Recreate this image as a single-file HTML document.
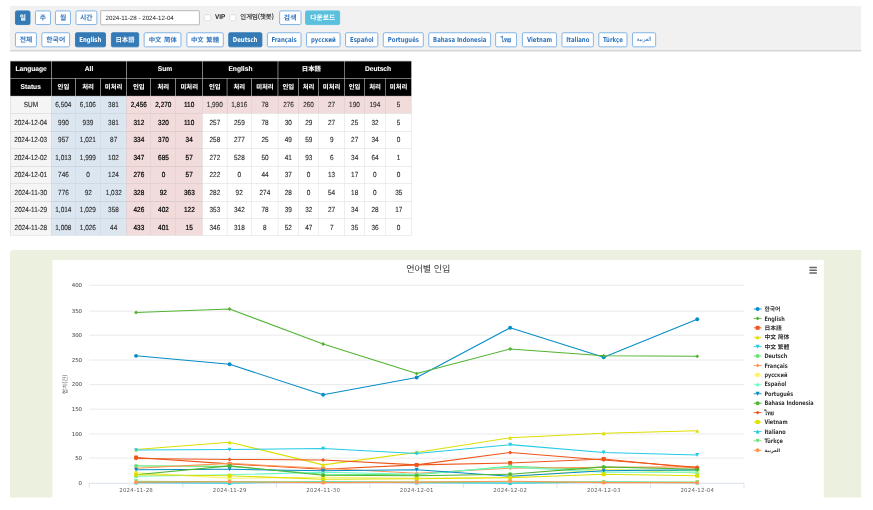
<!DOCTYPE html>
<html lang="ko"><head><meta charset="utf-8"><title>언어별 인입</title>
<style>
html,body{margin:0;padding:0;background:#fff;overflow:hidden}
body{width:873px;height:510px;position:relative}
#root{position:absolute;left:0;top:0;width:1920px;height:1122px;transform:scale(0.4546875);transform-origin:0 0;
 font-family:"Liberation Sans","Noto Sans CJK KR",sans-serif;font-size:14px;color:#333;overflow:hidden;text-rendering:geometricPrecision}
#root *{box-sizing:border-box}
.abs{position:absolute}
.bar{position:absolute;background:#f1f1f1;border-bottom:3px solid #d4d4d4}
.btn{position:absolute;border:2px solid #78aee3;border-radius:4px;background:#fff;color:#2f74bd;font-weight:bold;
 font-family:"DejaVu Sans Condensed","DejaVu Sans","Noto Sans CJK KR",sans-serif;font-size:15px;text-align:center;white-space:nowrap;
 display:flex;align-items:center;justify-content:center;padding:0}
.btn span{display:inline-block;transform:scaleX(0.875)}
.btn.ko span,.btn.jp span,.btn.sc span,.btn.tc span{transform:none}
.btn.ar{font-weight:normal;font-size:13px}
.btn.ar span{transform:none}
.btn.on{background:#337ab7;border-color:#337ab7;color:#fff}
.btn.info{background:#5bc0de;border-color:#5bc0de;color:#fff}
.btn.ko{font-family:"Noto Sans CJK KR",sans-serif;font-size:15px}
.btn.jp{font-family:"Noto Sans CJK JP",sans-serif;font-size:14px}
.btn.sc{font-family:"Noto Sans CJK SC",sans-serif;font-size:14px;word-spacing:2px}
.btn.tc{font-family:"Noto Sans CJK TC",sans-serif;font-size:14px;word-spacing:2px}
.inp{position:absolute;border:1.6px solid #6e6e6e;background:#fff;border-radius:2px;font-size:13.6px;color:#222;display:flex;align-items:center;white-space:pre}
.cb{position:absolute;border:1.5px solid #c6c6c6;background:#fff;border-radius:3.5px}
.lbl{position:absolute;white-space:nowrap;display:flex;align-items:center;color:#333}
.c{position:absolute;border-left:1px solid rgba(0,0,0,0.15);border-top:1px solid rgba(0,0,0,0.15);text-align:center;white-space:nowrap;
 display:flex;align-items:center;justify-content:center;font-size:16.2px;color:#2c2c2c;-webkit-text-stroke:0.3px #2c2c2c}
.c span{display:inline-block;transform:scaleX(0.875);position:relative;top:0.3px}
.h{background:#000;color:#fff;font-weight:bold;font-size:15.4px;border-color:#cfcfcf;-webkit-text-stroke:0.2px #fff}
.h span{transform:scaleX(0.95);top:0}
.h.ko span,.h.jp span{transform:none;position:relative;top:-1px}
.h.ko{font-family:"Noto Sans CJK KR",sans-serif;font-size:14px}
.h.jp{font-family:"Noto Sans CJK JP",sans-serif;font-size:14px}
.bl{background:#dce6f1}
.pk{background:#f2dcdb}
.pk.s{color:#000;-webkit-text-stroke:0.5px #000}
.gy{background:#f5f5f5}
.panel{position:absolute;background:#ebf0df;border-top-left-radius:9px}
</style></head><body><div id="root">

<div class="bar" style="left:21.77px;top:13.20px;width:1871.84px;height:99.63px"></div>
<div class="btn ko on" style="left:33.10px;top:22.98px;width:34.09px;height:31.89px"><span>일</span></div>
<div class="btn ko" style="left:76.65px;top:22.98px;width:35.19px;height:31.89px"><span>주</span></div>
<div class="btn ko" style="left:121.29px;top:22.98px;width:34.97px;height:31.89px"><span>월</span></div>
<div class="btn ko" style="left:165.50px;top:22.98px;width:48.82px;height:31.89px"><span>시간</span></div>
<div class="inp" style="left:220.81px;top:22.87px;width:217.95px;height:31.67px;padding-left:10.34px">2024-11-28 - 2024-12-04</div>
<div class="cb" style="left:449.43px;top:31.89px;width:14.41px;height:14.52px"></div>
<div class="lbl" style="left:473.07px;top:22.87px;height:27.71px;font-size:15.5px;font-weight:bold;color:#222"><span style="display:inline-block;transform:scaleX(0.9);transform-origin:0 50%">VIP</span></div>
<div class="cb" style="left:504.52px;top:31.89px;width:14.41px;height:14.52px"></div>
<div class="lbl" style="left:528.49px;top:22.87px;height:27.71px;font-size:14px;color:#222;-webkit-text-stroke:0.3px #222;font-family:'Noto Sans CJK KR',sans-serif">인게임(챗봇)</div>
<div class="btn ko" style="left:613.72px;top:22.98px;width:48.82px;height:31.89px"><span>검색</span></div>
<div class="btn ko info" style="left:671.34px;top:22.98px;width:76.98px;height:31.89px"><span>다운로드</span></div>
<div class="btn ko" style="left:33.10px;top:71.26px;width:47.95px;height:32.55px"><span>전체</span></div>
<div class="btn ko" style="left:90.72px;top:71.26px;width:63.78px;height:32.55px"><span>한국어</span></div>
<div class="btn on" style="left:165.28px;top:71.26px;width:67.52px;height:32.55px"><span>English</span></div>
<div class="btn jp on" style="left:244.01px;top:71.26px;width:62.02px;height:32.55px"><span>日本語</span></div>
<div class="btn sc" style="left:316.37px;top:71.26px;width:83.13px;height:32.55px"><span>中文 简体</span></div>
<div class="btn tc" style="left:409.62px;top:71.26px;width:82.47px;height:32.55px"><span>中文 繁體</span></div>
<div class="btn on" style="left:502.21px;top:71.26px;width:74.34px;height:32.55px"><span>Deutsch</span></div>
<div class="btn " style="left:587.33px;top:71.26px;width:75.22px;height:32.55px"><span>Français</span></div>
<div class="btn " style="left:673.10px;top:71.26px;width:75.66px;height:32.55px"><span>русский</span></div>
<div class="btn " style="left:758.65px;top:71.26px;width:73.68px;height:32.55px"><span>Español</span></div>
<div class="btn " style="left:842.45px;top:71.26px;width:89.73px;height:32.55px"><span>Português</span></div>
<div class="btn " style="left:941.64px;top:71.26px;width:138.12px;height:32.55px"><span>Bahasa Indonesia</span></div>
<div class="btn " style="left:1089.21px;top:71.26px;width:47.95px;height:32.55px"><span>ไทย</span></div>
<div class="btn " style="left:1147.93px;top:71.26px;width:76.98px;height:32.55px"><span>Vietnam</span></div>
<div class="btn " style="left:1235.02px;top:71.26px;width:71.04px;height:32.55px"><span>Italiano</span></div>
<div class="btn " style="left:1315.96px;top:71.26px;width:64.22px;height:32.55px"><span>Türkçe</span></div>
<div class="btn ar" style="left:1390.30px;top:71.26px;width:52.34px;height:32.55px"><span>العربية</span></div>
<div class="c h" style="left:22.21px;top:133.61px;width:90.39px;height:38.49px"><span>Language</span></div>
<div class="c h" style="left:112.60px;top:133.61px;width:165.61px;height:38.49px"><span>All</span></div>
<div class="c h" style="left:278.21px;top:133.61px;width:167.15px;height:38.49px"><span>Sum</span></div>
<div class="c h" style="left:445.36px;top:133.61px;width:165.61px;height:38.49px"><span>English</span></div>
<div class="c h jp" style="left:610.97px;top:133.61px;width:146.47px;height:38.49px"><span>日本語</span></div>
<div class="c h" style="left:757.44px;top:133.61px;width:147.79px;height:38.49px"><span>Deutsch</span></div>
<div class="c h" style="left:22.21px;top:172.10px;width:90.39px;height:38.49px"><span>Status</span></div>
<div class="c h ko" style="left:112.60px;top:172.10px;width:53.00px;height:38.49px"><span>인입</span></div>
<div class="c h ko" style="left:165.61px;top:172.10px;width:54.98px;height:38.49px"><span>처리</span></div>
<div class="c h ko" style="left:220.59px;top:172.10px;width:57.62px;height:38.49px"><span>미처리</span></div>
<div class="c h ko" style="left:278.21px;top:172.10px;width:53.22px;height:38.49px"><span>인입</span></div>
<div class="c h ko" style="left:331.44px;top:172.10px;width:54.54px;height:38.49px"><span>처리</span></div>
<div class="c h ko" style="left:385.98px;top:172.10px;width:59.38px;height:38.49px"><span>미처리</span></div>
<div class="c h ko" style="left:445.36px;top:172.10px;width:53.22px;height:38.49px"><span>인입</span></div>
<div class="c h ko" style="left:498.58px;top:172.10px;width:54.76px;height:38.49px"><span>처리</span></div>
<div class="c h ko" style="left:553.35px;top:172.10px;width:57.62px;height:38.49px"><span>미처리</span></div>
<div class="c h ko" style="left:610.97px;top:172.10px;width:45.09px;height:38.49px"><span>인입</span></div>
<div class="c h ko" style="left:656.05px;top:172.10px;width:44.21px;height:38.49px"><span>처리</span></div>
<div class="c h ko" style="left:700.26px;top:172.10px;width:57.18px;height:38.49px"><span>미처리</span></div>
<div class="c h ko" style="left:757.44px;top:172.10px;width:43.99px;height:38.49px"><span>인입</span></div>
<div class="c h ko" style="left:801.43px;top:172.10px;width:45.75px;height:38.49px"><span>처리</span></div>
<div class="c h ko" style="left:847.18px;top:172.10px;width:58.06px;height:38.49px"><span>미처리</span></div>
<div class="c gy" style="left:22.21px;top:210.58px;width:90.39px;height:38.49px"><span>SUM</span></div>
<div class="c bl" style="left:112.60px;top:210.58px;width:53.00px;height:38.49px"><span>6,504</span></div>
<div class="c bl" style="left:165.61px;top:210.58px;width:54.98px;height:38.49px"><span>6,106</span></div>
<div class="c bl" style="left:220.59px;top:210.58px;width:57.62px;height:38.49px"><span>381</span></div>
<div class="c pk s" style="left:278.21px;top:210.58px;width:53.22px;height:38.49px"><span>2,456</span></div>
<div class="c pk s" style="left:331.44px;top:210.58px;width:54.54px;height:38.49px"><span>2,270</span></div>
<div class="c pk s" style="left:385.98px;top:210.58px;width:59.38px;height:38.49px"><span>110</span></div>
<div class="c pk" style="left:445.36px;top:210.58px;width:53.22px;height:38.49px"><span>1,990</span></div>
<div class="c pk" style="left:498.58px;top:210.58px;width:54.76px;height:38.49px"><span>1,816</span></div>
<div class="c pk" style="left:553.35px;top:210.58px;width:57.62px;height:38.49px"><span>78</span></div>
<div class="c pk" style="left:610.97px;top:210.58px;width:45.09px;height:38.49px"><span>276</span></div>
<div class="c pk" style="left:656.05px;top:210.58px;width:44.21px;height:38.49px"><span>260</span></div>
<div class="c pk" style="left:700.26px;top:210.58px;width:57.18px;height:38.49px"><span>27</span></div>
<div class="c pk" style="left:757.44px;top:210.58px;width:43.99px;height:38.49px"><span>190</span></div>
<div class="c pk" style="left:801.43px;top:210.58px;width:45.75px;height:38.49px"><span>194</span></div>
<div class="c pk" style="left:847.18px;top:210.58px;width:58.06px;height:38.49px"><span>5</span></div>
<div class="c gy" style="left:22.21px;top:249.07px;width:90.39px;height:38.49px"><span>2024-12-04</span></div>
<div class="c bl" style="left:112.60px;top:249.07px;width:53.00px;height:38.49px"><span>990</span></div>
<div class="c bl" style="left:165.61px;top:249.07px;width:54.98px;height:38.49px"><span>939</span></div>
<div class="c bl" style="left:220.59px;top:249.07px;width:57.62px;height:38.49px"><span>381</span></div>
<div class="c pk s" style="left:278.21px;top:249.07px;width:53.22px;height:38.49px"><span>312</span></div>
<div class="c pk s" style="left:331.44px;top:249.07px;width:54.54px;height:38.49px"><span>320</span></div>
<div class="c pk s" style="left:385.98px;top:249.07px;width:59.38px;height:38.49px"><span>110</span></div>
<div class="c " style="left:445.36px;top:249.07px;width:53.22px;height:38.49px"><span>257</span></div>
<div class="c " style="left:498.58px;top:249.07px;width:54.76px;height:38.49px"><span>259</span></div>
<div class="c " style="left:553.35px;top:249.07px;width:57.62px;height:38.49px"><span>78</span></div>
<div class="c " style="left:610.97px;top:249.07px;width:45.09px;height:38.49px"><span>30</span></div>
<div class="c " style="left:656.05px;top:249.07px;width:44.21px;height:38.49px"><span>29</span></div>
<div class="c " style="left:700.26px;top:249.07px;width:57.18px;height:38.49px"><span>27</span></div>
<div class="c " style="left:757.44px;top:249.07px;width:43.99px;height:38.49px"><span>25</span></div>
<div class="c " style="left:801.43px;top:249.07px;width:45.75px;height:38.49px"><span>32</span></div>
<div class="c " style="left:847.18px;top:249.07px;width:58.06px;height:38.49px"><span>5</span></div>
<div class="c gy" style="left:22.21px;top:287.56px;width:90.39px;height:38.49px"><span>2024-12-03</span></div>
<div class="c bl" style="left:112.60px;top:287.56px;width:53.00px;height:38.49px"><span>957</span></div>
<div class="c bl" style="left:165.61px;top:287.56px;width:54.98px;height:38.49px"><span>1,021</span></div>
<div class="c bl" style="left:220.59px;top:287.56px;width:57.62px;height:38.49px"><span>87</span></div>
<div class="c pk s" style="left:278.21px;top:287.56px;width:53.22px;height:38.49px"><span>334</span></div>
<div class="c pk s" style="left:331.44px;top:287.56px;width:54.54px;height:38.49px"><span>370</span></div>
<div class="c pk s" style="left:385.98px;top:287.56px;width:59.38px;height:38.49px"><span>34</span></div>
<div class="c " style="left:445.36px;top:287.56px;width:53.22px;height:38.49px"><span>258</span></div>
<div class="c " style="left:498.58px;top:287.56px;width:54.76px;height:38.49px"><span>277</span></div>
<div class="c " style="left:553.35px;top:287.56px;width:57.62px;height:38.49px"><span>25</span></div>
<div class="c " style="left:610.97px;top:287.56px;width:45.09px;height:38.49px"><span>49</span></div>
<div class="c " style="left:656.05px;top:287.56px;width:44.21px;height:38.49px"><span>59</span></div>
<div class="c " style="left:700.26px;top:287.56px;width:57.18px;height:38.49px"><span>9</span></div>
<div class="c " style="left:757.44px;top:287.56px;width:43.99px;height:38.49px"><span>27</span></div>
<div class="c " style="left:801.43px;top:287.56px;width:45.75px;height:38.49px"><span>34</span></div>
<div class="c " style="left:847.18px;top:287.56px;width:58.06px;height:38.49px"><span>0</span></div>
<div class="c gy" style="left:22.21px;top:326.05px;width:90.39px;height:38.49px"><span>2024-12-02</span></div>
<div class="c bl" style="left:112.60px;top:326.05px;width:53.00px;height:38.49px"><span>1,013</span></div>
<div class="c bl" style="left:165.61px;top:326.05px;width:54.98px;height:38.49px"><span>1,999</span></div>
<div class="c bl" style="left:220.59px;top:326.05px;width:57.62px;height:38.49px"><span>102</span></div>
<div class="c pk s" style="left:278.21px;top:326.05px;width:53.22px;height:38.49px"><span>347</span></div>
<div class="c pk s" style="left:331.44px;top:326.05px;width:54.54px;height:38.49px"><span>685</span></div>
<div class="c pk s" style="left:385.98px;top:326.05px;width:59.38px;height:38.49px"><span>57</span></div>
<div class="c " style="left:445.36px;top:326.05px;width:53.22px;height:38.49px"><span>272</span></div>
<div class="c " style="left:498.58px;top:326.05px;width:54.76px;height:38.49px"><span>528</span></div>
<div class="c " style="left:553.35px;top:326.05px;width:57.62px;height:38.49px"><span>50</span></div>
<div class="c " style="left:610.97px;top:326.05px;width:45.09px;height:38.49px"><span>41</span></div>
<div class="c " style="left:656.05px;top:326.05px;width:44.21px;height:38.49px"><span>93</span></div>
<div class="c " style="left:700.26px;top:326.05px;width:57.18px;height:38.49px"><span>6</span></div>
<div class="c " style="left:757.44px;top:326.05px;width:43.99px;height:38.49px"><span>34</span></div>
<div class="c " style="left:801.43px;top:326.05px;width:45.75px;height:38.49px"><span>64</span></div>
<div class="c " style="left:847.18px;top:326.05px;width:58.06px;height:38.49px"><span>1</span></div>
<div class="c gy" style="left:22.21px;top:364.54px;width:90.39px;height:38.49px"><span>2024-12-01</span></div>
<div class="c bl" style="left:112.60px;top:364.54px;width:53.00px;height:38.49px"><span>746</span></div>
<div class="c bl" style="left:165.61px;top:364.54px;width:54.98px;height:38.49px"><span>0</span></div>
<div class="c bl" style="left:220.59px;top:364.54px;width:57.62px;height:38.49px"><span>124</span></div>
<div class="c pk s" style="left:278.21px;top:364.54px;width:53.22px;height:38.49px"><span>276</span></div>
<div class="c pk s" style="left:331.44px;top:364.54px;width:54.54px;height:38.49px"><span>0</span></div>
<div class="c pk s" style="left:385.98px;top:364.54px;width:59.38px;height:38.49px"><span>57</span></div>
<div class="c " style="left:445.36px;top:364.54px;width:53.22px;height:38.49px"><span>222</span></div>
<div class="c " style="left:498.58px;top:364.54px;width:54.76px;height:38.49px"><span>0</span></div>
<div class="c " style="left:553.35px;top:364.54px;width:57.62px;height:38.49px"><span>44</span></div>
<div class="c " style="left:610.97px;top:364.54px;width:45.09px;height:38.49px"><span>37</span></div>
<div class="c " style="left:656.05px;top:364.54px;width:44.21px;height:38.49px"><span>0</span></div>
<div class="c " style="left:700.26px;top:364.54px;width:57.18px;height:38.49px"><span>13</span></div>
<div class="c " style="left:757.44px;top:364.54px;width:43.99px;height:38.49px"><span>17</span></div>
<div class="c " style="left:801.43px;top:364.54px;width:45.75px;height:38.49px"><span>0</span></div>
<div class="c " style="left:847.18px;top:364.54px;width:58.06px;height:38.49px"><span>0</span></div>
<div class="c gy" style="left:22.21px;top:403.02px;width:90.39px;height:38.49px"><span>2024-11-30</span></div>
<div class="c bl" style="left:112.60px;top:403.02px;width:53.00px;height:38.49px"><span>776</span></div>
<div class="c bl" style="left:165.61px;top:403.02px;width:54.98px;height:38.49px"><span>92</span></div>
<div class="c bl" style="left:220.59px;top:403.02px;width:57.62px;height:38.49px"><span>1,032</span></div>
<div class="c pk s" style="left:278.21px;top:403.02px;width:53.22px;height:38.49px"><span>328</span></div>
<div class="c pk s" style="left:331.44px;top:403.02px;width:54.54px;height:38.49px"><span>92</span></div>
<div class="c pk s" style="left:385.98px;top:403.02px;width:59.38px;height:38.49px"><span>363</span></div>
<div class="c " style="left:445.36px;top:403.02px;width:53.22px;height:38.49px"><span>282</span></div>
<div class="c " style="left:498.58px;top:403.02px;width:54.76px;height:38.49px"><span>92</span></div>
<div class="c " style="left:553.35px;top:403.02px;width:57.62px;height:38.49px"><span>274</span></div>
<div class="c " style="left:610.97px;top:403.02px;width:45.09px;height:38.49px"><span>28</span></div>
<div class="c " style="left:656.05px;top:403.02px;width:44.21px;height:38.49px"><span>0</span></div>
<div class="c " style="left:700.26px;top:403.02px;width:57.18px;height:38.49px"><span>54</span></div>
<div class="c " style="left:757.44px;top:403.02px;width:43.99px;height:38.49px"><span>18</span></div>
<div class="c " style="left:801.43px;top:403.02px;width:45.75px;height:38.49px"><span>0</span></div>
<div class="c " style="left:847.18px;top:403.02px;width:58.06px;height:38.49px"><span>35</span></div>
<div class="c gy" style="left:22.21px;top:441.51px;width:90.39px;height:38.49px"><span>2024-11-29</span></div>
<div class="c bl" style="left:112.60px;top:441.51px;width:53.00px;height:38.49px"><span>1,014</span></div>
<div class="c bl" style="left:165.61px;top:441.51px;width:54.98px;height:38.49px"><span>1,029</span></div>
<div class="c bl" style="left:220.59px;top:441.51px;width:57.62px;height:38.49px"><span>358</span></div>
<div class="c pk s" style="left:278.21px;top:441.51px;width:53.22px;height:38.49px"><span>426</span></div>
<div class="c pk s" style="left:331.44px;top:441.51px;width:54.54px;height:38.49px"><span>402</span></div>
<div class="c pk s" style="left:385.98px;top:441.51px;width:59.38px;height:38.49px"><span>122</span></div>
<div class="c " style="left:445.36px;top:441.51px;width:53.22px;height:38.49px"><span>353</span></div>
<div class="c " style="left:498.58px;top:441.51px;width:54.76px;height:38.49px"><span>342</span></div>
<div class="c " style="left:553.35px;top:441.51px;width:57.62px;height:38.49px"><span>78</span></div>
<div class="c " style="left:610.97px;top:441.51px;width:45.09px;height:38.49px"><span>39</span></div>
<div class="c " style="left:656.05px;top:441.51px;width:44.21px;height:38.49px"><span>32</span></div>
<div class="c " style="left:700.26px;top:441.51px;width:57.18px;height:38.49px"><span>27</span></div>
<div class="c " style="left:757.44px;top:441.51px;width:43.99px;height:38.49px"><span>34</span></div>
<div class="c " style="left:801.43px;top:441.51px;width:45.75px;height:38.49px"><span>28</span></div>
<div class="c " style="left:847.18px;top:441.51px;width:58.06px;height:38.49px"><span>17</span></div>
<div class="c gy" style="left:22.21px;top:480.00px;width:90.39px;height:38.49px"><span>2024-11-28</span></div>
<div class="c bl" style="left:112.60px;top:480.00px;width:53.00px;height:38.49px"><span>1,008</span></div>
<div class="c bl" style="left:165.61px;top:480.00px;width:54.98px;height:38.49px"><span>1,026</span></div>
<div class="c bl" style="left:220.59px;top:480.00px;width:57.62px;height:38.49px"><span>44</span></div>
<div class="c pk s" style="left:278.21px;top:480.00px;width:53.22px;height:38.49px"><span>433</span></div>
<div class="c pk s" style="left:331.44px;top:480.00px;width:54.54px;height:38.49px"><span>401</span></div>
<div class="c pk s" style="left:385.98px;top:480.00px;width:59.38px;height:38.49px"><span>15</span></div>
<div class="c " style="left:445.36px;top:480.00px;width:53.22px;height:38.49px"><span>346</span></div>
<div class="c " style="left:498.58px;top:480.00px;width:54.76px;height:38.49px"><span>318</span></div>
<div class="c " style="left:553.35px;top:480.00px;width:57.62px;height:38.49px"><span>8</span></div>
<div class="c " style="left:610.97px;top:480.00px;width:45.09px;height:38.49px"><span>52</span></div>
<div class="c " style="left:656.05px;top:480.00px;width:44.21px;height:38.49px"><span>47</span></div>
<div class="c " style="left:700.26px;top:480.00px;width:57.18px;height:38.49px"><span>7</span></div>
<div class="c " style="left:757.44px;top:480.00px;width:43.99px;height:38.49px"><span>35</span></div>
<div class="c " style="left:801.43px;top:480.00px;width:45.75px;height:38.49px"><span>36</span></div>
<div class="c " style="left:847.18px;top:480.00px;width:58.06px;height:38.49px"><span>0</span></div>
<div class="abs" style="left:905.24px;top:133.61px;width:1px;height:384.88px;background:#d9d9d9"></div>
<div class="abs" style="left:22.21px;top:518.49px;width:883.02px;height:1px;background:#d9d9d9"></div>
<div class="panel" style="left:22.21px;top:549.61px;width:1871.40px;height:544.77px">
<svg style="position:absolute;left:93.25px;top:21.88px" width="1696.99px" height="538.83px" viewBox="52.50 259.85 771.60 245.00">
<rect x="52.50" y="259.85" width="771.60" height="245.00" fill="#fff"/>
<text x="82.3" y="485.25" text-anchor="end" font-family="'DejaVu Sans',sans-serif" font-size="5.456" fill="#555" stroke="#555" stroke-width="0.08">0</text>
<path d="M89.50 458.35 H744.20" stroke="#dadada" stroke-width="0.568" fill="none"/>
<text x="82.3" y="460.10" text-anchor="end" font-family="'DejaVu Sans',sans-serif" font-size="5.456" fill="#555" stroke="#555" stroke-width="0.08">50</text>
<path d="M89.50 434.20 H744.20" stroke="#dadada" stroke-width="0.568" fill="none"/>
<text x="82.3" y="435.95" text-anchor="end" font-family="'DejaVu Sans',sans-serif" font-size="5.456" fill="#555" stroke="#555" stroke-width="0.08">100</text>
<path d="M89.50 409.40 H744.20" stroke="#dadada" stroke-width="0.568" fill="none"/>
<text x="82.3" y="411.15" text-anchor="end" font-family="'DejaVu Sans',sans-serif" font-size="5.456" fill="#555" stroke="#555" stroke-width="0.08">150</text>
<path d="M89.50 384.85 H744.20" stroke="#dadada" stroke-width="0.568" fill="none"/>
<text x="82.3" y="386.60" text-anchor="end" font-family="'DejaVu Sans',sans-serif" font-size="5.456" fill="#555" stroke="#555" stroke-width="0.08">200</text>
<path d="M89.50 360.30 H744.20" stroke="#dadada" stroke-width="0.568" fill="none"/>
<text x="82.3" y="362.05" text-anchor="end" font-family="'DejaVu Sans',sans-serif" font-size="5.456" fill="#555" stroke="#555" stroke-width="0.08">250</text>
<path d="M89.50 335.40 H744.20" stroke="#dadada" stroke-width="0.568" fill="none"/>
<text x="82.3" y="337.15" text-anchor="end" font-family="'DejaVu Sans',sans-serif" font-size="5.456" fill="#555" stroke="#555" stroke-width="0.08">300</text>
<path d="M89.50 311.35 H744.20" stroke="#dadada" stroke-width="0.568" fill="none"/>
<text x="82.3" y="313.10" text-anchor="end" font-family="'DejaVu Sans',sans-serif" font-size="5.456" fill="#555" stroke="#555" stroke-width="0.08">350</text>
<path d="M89.50 285.50 H744.20" stroke="#dadada" stroke-width="0.568" fill="none"/>
<text x="82.3" y="287.25" text-anchor="end" font-family="'DejaVu Sans',sans-serif" font-size="5.456" fill="#555" stroke="#555" stroke-width="0.08">400</text>
<path d="M89.50 483.50 H744.20" stroke="#c0cce6" stroke-width="0.637" fill="none"/>
<path d="M89.50 483.50 V488.05" stroke="#c0cce6" stroke-width="0.591" fill="none"/>
<path d="M183.03 483.50 V488.05" stroke="#c0cce6" stroke-width="0.591" fill="none"/>
<path d="M276.56 483.50 V488.05" stroke="#c0cce6" stroke-width="0.591" fill="none"/>
<path d="M370.09 483.50 V488.05" stroke="#c0cce6" stroke-width="0.591" fill="none"/>
<path d="M463.61 483.50 V488.05" stroke="#c0cce6" stroke-width="0.591" fill="none"/>
<path d="M557.14 483.50 V488.05" stroke="#c0cce6" stroke-width="0.591" fill="none"/>
<path d="M650.67 483.50 V488.05" stroke="#c0cce6" stroke-width="0.591" fill="none"/>
<path d="M744.20 483.50 V488.05" stroke="#c0cce6" stroke-width="0.591" fill="none"/>
<text x="136.26" y="492.35" text-anchor="middle" textLength="33.6" lengthAdjust="spacing" font-family="'DejaVu Sans',sans-serif" font-size="5.456" fill="#606060">2024-11-28</text>
<text x="229.79" y="492.35" text-anchor="middle" textLength="33.6" lengthAdjust="spacing" font-family="'DejaVu Sans',sans-serif" font-size="5.456" fill="#606060">2024-11-29</text>
<text x="323.32" y="492.35" text-anchor="middle" textLength="33.6" lengthAdjust="spacing" font-family="'DejaVu Sans',sans-serif" font-size="5.456" fill="#606060">2024-11-30</text>
<text x="416.85" y="492.35" text-anchor="middle" textLength="33.6" lengthAdjust="spacing" font-family="'DejaVu Sans',sans-serif" font-size="5.456" fill="#606060">2024-12-01</text>
<text x="510.38" y="492.35" text-anchor="middle" textLength="33.6" lengthAdjust="spacing" font-family="'DejaVu Sans',sans-serif" font-size="5.456" fill="#606060">2024-12-02</text>
<text x="603.91" y="492.35" text-anchor="middle" textLength="33.6" lengthAdjust="spacing" font-family="'DejaVu Sans',sans-serif" font-size="5.456" fill="#606060">2024-12-03</text>
<text x="697.44" y="492.35" text-anchor="middle" textLength="33.6" lengthAdjust="spacing" font-family="'DejaVu Sans',sans-serif" font-size="5.456" fill="#606060">2024-12-04</text>
<text x="428.5" y="272.3" text-anchor="middle" font-family="'Noto Sans CJK KR',sans-serif" font-size="9.094" fill="#333">언어별 인입</text>
<text transform="translate(66.9 384.6) rotate(-90)" text-anchor="middle" font-family="'Noto Sans CJK KR',sans-serif" font-size="5.638" fill="#666">합계(건)</text>
<path d="M810.2 267.80 H816.5" stroke="#666" stroke-width="1.546" stroke-linecap="round" fill="none"/>
<path d="M810.2 270.55 H816.5" stroke="#666" stroke-width="1.546" stroke-linecap="round" fill="none"/>
<path d="M810.2 273.25 H816.5" stroke="#666" stroke-width="1.546" stroke-linecap="round" fill="none"/>
<polyline points="136.26,356.06 229.79,364.45 323.32,395.04 416.85,377.77 510.38,327.94 603.91,357.54 697.44,319.55" fill="none" stroke="#058DC7" stroke-width="1.046" stroke-linejoin="round" stroke-linecap="round"/>
<circle cx="136.26" cy="356.06" r="1.96" fill="#058DC7"/>
<circle cx="229.79" cy="364.45" r="1.96" fill="#058DC7"/>
<circle cx="323.32" cy="395.04" r="1.96" fill="#058DC7"/>
<circle cx="416.85" cy="377.77" r="1.96" fill="#058DC7"/>
<circle cx="510.38" cy="327.94" r="1.96" fill="#058DC7"/>
<circle cx="603.91" cy="357.54" r="1.96" fill="#058DC7"/>
<circle cx="697.44" cy="319.55" r="1.96" fill="#058DC7"/>
<polyline points="136.26,312.64 229.79,309.19 323.32,344.22 416.85,373.83 510.38,349.16 603.91,356.06 697.44,356.56" fill="none" stroke="#50B432" stroke-width="1.046" stroke-linejoin="round" stroke-linecap="round"/>
<path d="M136.26 310.69 L138.22 312.64 L136.26 314.60 L134.31 312.64Z" fill="#50B432"/>
<path d="M229.79 307.23 L231.75 309.19 L229.79 311.14 L227.84 309.19Z" fill="#50B432"/>
<path d="M323.32 342.27 L325.28 344.22 L323.32 346.18 L321.37 344.22Z" fill="#50B432"/>
<path d="M416.85 371.87 L418.81 373.83 L416.85 375.78 L414.89 373.83Z" fill="#50B432"/>
<path d="M510.38 347.20 L512.33 349.16 L510.38 351.11 L508.42 349.16Z" fill="#50B432"/>
<path d="M603.91 354.11 L605.86 356.06 L603.91 358.02 L601.95 356.06Z" fill="#50B432"/>
<path d="M697.44 354.60 L699.39 356.56 L697.44 358.51 L695.48 356.56Z" fill="#50B432"/>
<polyline points="136.26,457.70 229.79,464.12 323.32,469.54 416.85,465.10 510.38,463.13 603.91,459.18 697.44,468.56" fill="none" stroke="#ED561B" stroke-width="1.046" stroke-linejoin="round" stroke-linecap="round"/>
<rect x="134.31" y="455.75" width="3.91" height="3.91" fill="#ED561B"/>
<rect x="227.84" y="462.16" width="3.91" height="3.91" fill="#ED561B"/>
<rect x="321.37" y="467.59" width="3.91" height="3.91" fill="#ED561B"/>
<rect x="414.89" y="463.15" width="3.91" height="3.91" fill="#ED561B"/>
<rect x="508.42" y="461.18" width="3.91" height="3.91" fill="#ED561B"/>
<rect x="601.95" y="457.23" width="3.91" height="3.91" fill="#ED561B"/>
<rect x="695.48" y="466.60" width="3.91" height="3.91" fill="#ED561B"/>
<polyline points="136.26,449.81 229.79,442.41 323.32,465.10 416.85,452.77 510.38,437.97 603.91,433.53 697.44,431.06" fill="none" stroke="#DDDF00" stroke-width="1.046" stroke-linejoin="round" stroke-linecap="round"/>
<path d="M136.26 447.85 L138.22 451.76 L134.31 451.76Z" fill="#DDDF00"/>
<path d="M229.79 440.45 L231.75 444.36 L227.84 444.36Z" fill="#DDDF00"/>
<path d="M323.32 463.15 L325.28 467.06 L321.37 467.06Z" fill="#DDDF00"/>
<path d="M416.85 450.81 L418.81 454.72 L414.89 454.72Z" fill="#DDDF00"/>
<path d="M510.38 436.01 L512.33 439.92 L508.42 439.92Z" fill="#DDDF00"/>
<path d="M603.91 431.57 L605.86 435.48 L601.95 435.48Z" fill="#DDDF00"/>
<path d="M697.44 429.10 L699.39 433.01 L695.48 433.01Z" fill="#DDDF00"/>
<polyline points="136.26,450.30 229.79,449.81 323.32,448.82 416.85,453.76 510.38,444.87 603.91,452.77 697.44,455.24" fill="none" stroke="#24CBE5" stroke-width="1.046" stroke-linejoin="round" stroke-linecap="round"/>
<path d="M134.31 448.35 L138.22 448.35 L136.26 452.26Z" fill="#24CBE5"/>
<path d="M227.84 447.85 L231.75 447.85 L229.79 451.76Z" fill="#24CBE5"/>
<path d="M321.37 446.87 L325.28 446.87 L323.32 450.78Z" fill="#24CBE5"/>
<path d="M414.89 451.80 L418.81 451.80 L416.85 455.71Z" fill="#24CBE5"/>
<path d="M508.42 442.92 L512.33 442.92 L510.38 446.83Z" fill="#24CBE5"/>
<path d="M601.95 450.81 L605.86 450.81 L603.91 454.72Z" fill="#24CBE5"/>
<path d="M695.48 453.28 L699.39 453.28 L697.44 457.19Z" fill="#24CBE5"/>
<polyline points="136.26,466.09 229.79,466.58 323.32,474.48 416.85,474.97 510.38,466.58 603.91,470.04 697.44,471.03" fill="none" stroke="#64E572" stroke-width="1.046" stroke-linejoin="round" stroke-linecap="round"/>
<circle cx="136.26" cy="466.09" r="1.96" fill="#64E572"/>
<circle cx="229.79" cy="466.58" r="1.96" fill="#64E572"/>
<circle cx="323.32" cy="474.48" r="1.96" fill="#64E572"/>
<circle cx="416.85" cy="474.97" r="1.96" fill="#64E572"/>
<circle cx="510.38" cy="466.58" r="1.96" fill="#64E572"/>
<circle cx="603.91" cy="470.04" r="1.96" fill="#64E572"/>
<circle cx="697.44" cy="471.03" r="1.96" fill="#64E572"/>
<polyline points="136.26,468.56 229.79,463.62 323.32,468.56 416.85,473.49 510.38,468.56 603.91,467.57 697.44,467.08" fill="none" stroke="#FF9655" stroke-width="1.046" stroke-linejoin="round" stroke-linecap="round"/>
<path d="M136.26 466.60 L138.22 468.56 L136.26 470.51 L134.31 468.56Z" fill="#FF9655"/>
<path d="M229.79 461.67 L231.75 463.62 L229.79 465.58 L227.84 463.62Z" fill="#FF9655"/>
<path d="M323.32 466.60 L325.28 468.56 L323.32 470.51 L321.37 468.56Z" fill="#FF9655"/>
<path d="M416.85 471.54 L418.81 473.49 L416.85 475.45 L414.89 473.49Z" fill="#FF9655"/>
<path d="M510.38 466.60 L512.33 468.56 L510.38 470.51 L508.42 468.56Z" fill="#FF9655"/>
<path d="M603.91 465.62 L605.86 467.57 L603.91 469.53 L601.95 467.57Z" fill="#FF9655"/>
<path d="M697.44 465.12 L699.39 467.08 L697.44 469.03 L695.48 467.08Z" fill="#FF9655"/>
<polyline points="136.26,473.00 229.79,478.43 323.32,477.44 416.85,478.43 510.38,477.44 603.91,469.54 697.44,473.49" fill="none" stroke="#FFF263" stroke-width="1.046" stroke-linejoin="round" stroke-linecap="round"/>
<rect x="134.31" y="471.04" width="3.91" height="3.91" fill="#FFF263"/>
<rect x="227.84" y="476.47" width="3.91" height="3.91" fill="#FFF263"/>
<rect x="321.37" y="475.48" width="3.91" height="3.91" fill="#FFF263"/>
<rect x="414.89" y="476.47" width="3.91" height="3.91" fill="#FFF263"/>
<rect x="508.42" y="475.48" width="3.91" height="3.91" fill="#FFF263"/>
<rect x="601.95" y="467.59" width="3.91" height="3.91" fill="#FFF263"/>
<rect x="695.48" y="471.54" width="3.91" height="3.91" fill="#FFF263"/>
<polyline points="136.26,476.45 229.79,474.97 323.32,472.51 416.85,474.48 510.38,467.08 603.91,472.51 697.44,472.51" fill="none" stroke="#6AF9C4" stroke-width="1.046" stroke-linejoin="round" stroke-linecap="round"/>
<path d="M136.26 474.50 L138.22 478.41 L134.31 478.41Z" fill="#6AF9C4"/>
<path d="M229.79 473.02 L231.75 476.93 L227.84 476.93Z" fill="#6AF9C4"/>
<path d="M323.32 470.55 L325.28 474.46 L321.37 474.46Z" fill="#6AF9C4"/>
<path d="M416.85 472.52 L418.81 476.43 L414.89 476.43Z" fill="#6AF9C4"/>
<path d="M510.38 465.12 L512.33 469.03 L508.42 469.03Z" fill="#6AF9C4"/>
<path d="M603.91 470.55 L605.86 474.46 L601.95 474.46Z" fill="#6AF9C4"/>
<path d="M697.44 470.55 L699.39 474.46 L695.48 474.46Z" fill="#6AF9C4"/>
<polyline points="136.26,470.04 229.79,469.54 323.32,471.03 416.85,470.04 510.38,476.45 603.91,471.03 697.44,470.04" fill="none" stroke="#058DC7" stroke-width="1.046" stroke-linejoin="round" stroke-linecap="round"/>
<path d="M134.31 468.08 L138.22 468.08 L136.26 471.99Z" fill="#058DC7"/>
<path d="M227.84 467.59 L231.75 467.59 L229.79 471.50Z" fill="#058DC7"/>
<path d="M321.37 469.07 L325.28 469.07 L323.32 472.98Z" fill="#058DC7"/>
<path d="M414.89 468.08 L418.81 468.08 L416.85 471.99Z" fill="#058DC7"/>
<path d="M508.42 474.50 L512.33 474.50 L510.38 478.41Z" fill="#058DC7"/>
<path d="M601.95 469.07 L605.86 469.07 L603.91 472.98Z" fill="#058DC7"/>
<path d="M695.48 468.08 L699.39 468.08 L697.44 471.99Z" fill="#058DC7"/>
<polyline points="136.26,474.97 229.79,466.09 323.32,475.47 416.85,475.96 510.38,474.48 603.91,467.08 697.44,469.54" fill="none" stroke="#50B432" stroke-width="1.046" stroke-linejoin="round" stroke-linecap="round"/>
<circle cx="136.26" cy="474.97" r="1.96" fill="#50B432"/>
<circle cx="229.79" cy="466.09" r="1.96" fill="#50B432"/>
<circle cx="323.32" cy="475.47" r="1.96" fill="#50B432"/>
<circle cx="416.85" cy="475.96" r="1.96" fill="#50B432"/>
<circle cx="510.38" cy="474.48" r="1.96" fill="#50B432"/>
<circle cx="603.91" cy="467.08" r="1.96" fill="#50B432"/>
<circle cx="697.44" cy="469.54" r="1.96" fill="#50B432"/>
<polyline points="136.26,458.69 229.79,459.68 323.32,460.17 416.85,465.10 510.38,452.77 603.91,460.17 697.44,467.57" fill="none" stroke="#ED561B" stroke-width="1.046" stroke-linejoin="round" stroke-linecap="round"/>
<path d="M136.26 456.73 L138.22 458.69 L136.26 460.65 L134.31 458.69Z" fill="#ED561B"/>
<path d="M229.79 457.72 L231.75 459.68 L229.79 461.63 L227.84 459.68Z" fill="#ED561B"/>
<path d="M323.32 458.22 L325.28 460.17 L323.32 462.13 L321.37 460.17Z" fill="#ED561B"/>
<path d="M416.85 463.15 L418.81 465.10 L416.85 467.06 L414.89 465.10Z" fill="#ED561B"/>
<path d="M510.38 450.81 L512.33 452.77 L510.38 454.72 L508.42 452.77Z" fill="#ED561B"/>
<path d="M603.91 458.22 L605.86 460.17 L603.91 462.13 L601.95 460.17Z" fill="#ED561B"/>
<path d="M697.44 465.62 L699.39 467.57 L697.44 469.53 L695.48 467.57Z" fill="#ED561B"/>
<polyline points="136.26,474.97 229.79,475.96 323.32,479.41 416.85,478.92 510.38,477.93 603.91,474.48 697.44,475.96" fill="none" stroke="#DDDF00" stroke-width="1.046" stroke-linejoin="round" stroke-linecap="round"/>
<rect x="134.31" y="473.02" width="3.91" height="3.91" fill="#DDDF00"/>
<rect x="227.84" y="474.00" width="3.91" height="3.91" fill="#DDDF00"/>
<rect x="321.37" y="477.46" width="3.91" height="3.91" fill="#DDDF00"/>
<rect x="414.89" y="476.96" width="3.91" height="3.91" fill="#DDDF00"/>
<rect x="508.42" y="475.98" width="3.91" height="3.91" fill="#DDDF00"/>
<rect x="601.95" y="472.52" width="3.91" height="3.91" fill="#DDDF00"/>
<rect x="695.48" y="474.00" width="3.91" height="3.91" fill="#DDDF00"/>
<polyline points="136.26,482.87 229.79,483.36 323.32,481.88 416.85,482.87 510.38,483.36 603.91,482.37 697.44,482.87" fill="none" stroke="#24CBE5" stroke-width="1.046" stroke-linejoin="round" stroke-linecap="round"/>
<path d="M136.26 480.91 L138.22 484.82 L134.31 484.82Z" fill="#24CBE5"/>
<path d="M229.79 481.40 L231.75 485.32 L227.84 485.32Z" fill="#24CBE5"/>
<path d="M323.32 479.92 L325.28 483.83 L321.37 483.83Z" fill="#24CBE5"/>
<path d="M416.85 480.91 L418.81 484.82 L414.89 484.82Z" fill="#24CBE5"/>
<path d="M510.38 481.40 L512.33 485.32 L508.42 485.32Z" fill="#24CBE5"/>
<path d="M603.91 480.42 L605.86 484.33 L601.95 484.33Z" fill="#24CBE5"/>
<path d="M697.44 480.91 L699.39 484.82 L695.48 484.82Z" fill="#24CBE5"/>
<polyline points="136.26,481.39 229.79,481.88 323.32,482.37 416.85,482.37 510.38,481.88 603.91,482.37 697.44,482.37" fill="none" stroke="#64E572" stroke-width="1.046" stroke-linejoin="round" stroke-linecap="round"/>
<path d="M134.31 479.43 L138.22 479.43 L136.26 483.34Z" fill="#64E572"/>
<path d="M227.84 479.92 L231.75 479.92 L229.79 483.83Z" fill="#64E572"/>
<path d="M321.37 480.42 L325.28 480.42 L323.32 484.33Z" fill="#64E572"/>
<path d="M414.89 480.42 L418.81 480.42 L416.85 484.33Z" fill="#64E572"/>
<path d="M508.42 479.92 L512.33 479.92 L510.38 483.83Z" fill="#64E572"/>
<path d="M601.95 480.42 L605.86 480.42 L603.91 484.33Z" fill="#64E572"/>
<path d="M695.48 480.42 L699.39 480.42 L697.44 484.33Z" fill="#64E572"/>
<polyline points="136.26,482.37 229.79,481.88 323.32,482.87 416.85,482.37 510.38,481.39 603.91,482.87 697.44,482.87" fill="none" stroke="#FF9655" stroke-width="1.046" stroke-linejoin="round" stroke-linecap="round"/>
<circle cx="136.26" cy="482.37" r="1.96" fill="#FF9655"/>
<circle cx="229.79" cy="481.88" r="1.96" fill="#FF9655"/>
<circle cx="323.32" cy="482.87" r="1.96" fill="#FF9655"/>
<circle cx="416.85" cy="482.37" r="1.96" fill="#FF9655"/>
<circle cx="510.38" cy="481.39" r="1.96" fill="#FF9655"/>
<circle cx="603.91" cy="482.87" r="1.96" fill="#FF9655"/>
<circle cx="697.44" cy="482.87" r="1.96" fill="#FF9655"/>
<path d="M753.9 309.20 H761.8" stroke="#058DC7" stroke-width="0.909" fill="none"/>
<circle cx="757.85" cy="309.20" r="1.96" fill="#058DC7"/>
<text x="764.6" y="311.35" font-family="'Noto Sans CJK KR','DejaVu Sans Condensed','DejaVu Sans',sans-serif" font-weight="bold" font-size="5.820" fill="#333">한국어</text>
<path d="M753.9 318.62 H761.8" stroke="#50B432" stroke-width="0.909" fill="none"/>
<path d="M757.85 316.66 L759.81 318.62 L757.85 320.58 L755.89 318.62Z" fill="#50B432"/>
<text transform="translate(764.6 320.77) scale(0.9 1)" font-family="'DejaVu Sans Condensed','DejaVu Sans',sans-serif" font-weight="bold" font-size="6.138" fill="#333">English</text>
<path d="M753.9 328.04 H761.8" stroke="#ED561B" stroke-width="0.909" fill="none"/>
<rect x="755.89" y="326.08" width="3.91" height="3.91" fill="#ED561B"/>
<text x="764.6" y="330.19" font-family="'Noto Sans CJK JP','DejaVu Sans Condensed','DejaVu Sans',sans-serif" font-weight="bold" font-size="5.820" fill="#333">日本語</text>
<path d="M753.9 337.46 H761.8" stroke="#DDDF00" stroke-width="0.909" fill="none"/>
<path d="M757.85 335.50 L759.81 339.42 L755.89 339.42Z" fill="#DDDF00"/>
<text x="764.6" y="339.61" font-family="'Noto Sans CJK SC','DejaVu Sans Condensed','DejaVu Sans',sans-serif" font-weight="bold" font-size="5.820" fill="#333">中文 简体</text>
<path d="M753.9 346.88 H761.8" stroke="#24CBE5" stroke-width="0.909" fill="none"/>
<path d="M755.89 344.92 L759.81 344.92 L757.85 348.84Z" fill="#24CBE5"/>
<text x="764.6" y="349.03" font-family="'Noto Sans CJK TC','DejaVu Sans Condensed','DejaVu Sans',sans-serif" font-weight="bold" font-size="5.820" fill="#333">中文 繁體</text>
<path d="M753.9 356.30 H761.8" stroke="#64E572" stroke-width="0.909" fill="none"/>
<circle cx="757.85" cy="356.30" r="1.96" fill="#64E572"/>
<text transform="translate(764.6 358.45) scale(0.9 1)" font-family="'DejaVu Sans Condensed','DejaVu Sans',sans-serif" font-weight="bold" font-size="6.138" fill="#333">Deutsch</text>
<path d="M753.9 365.72 H761.8" stroke="#FF9655" stroke-width="0.909" fill="none"/>
<path d="M757.85 363.76 L759.81 365.72 L757.85 367.68 L755.89 365.72Z" fill="#FF9655"/>
<text transform="translate(764.6 367.87) scale(0.9 1)" font-family="'DejaVu Sans Condensed','DejaVu Sans',sans-serif" font-weight="bold" font-size="6.138" fill="#333">Français</text>
<path d="M753.9 375.14 H761.8" stroke="#FFF263" stroke-width="0.909" fill="none"/>
<rect x="755.89" y="373.18" width="3.91" height="3.91" fill="#FFF263"/>
<text transform="translate(764.6 377.29) scale(0.9 1)" font-family="'DejaVu Sans Condensed','DejaVu Sans',sans-serif" font-weight="bold" font-size="6.138" fill="#333">русский</text>
<path d="M753.9 384.56 H761.8" stroke="#6AF9C4" stroke-width="0.909" fill="none"/>
<path d="M757.85 382.60 L759.81 386.52 L755.89 386.52Z" fill="#6AF9C4"/>
<text transform="translate(764.6 386.71) scale(0.9 1)" font-family="'DejaVu Sans Condensed','DejaVu Sans',sans-serif" font-weight="bold" font-size="6.138" fill="#333">Español</text>
<path d="M753.9 393.98 H761.8" stroke="#058DC7" stroke-width="0.909" fill="none"/>
<path d="M755.89 392.02 L759.81 392.02 L757.85 395.94Z" fill="#058DC7"/>
<text transform="translate(764.6 396.13) scale(0.9 1)" font-family="'DejaVu Sans Condensed','DejaVu Sans',sans-serif" font-weight="bold" font-size="6.138" fill="#333">Português</text>
<path d="M753.9 403.40 H761.8" stroke="#50B432" stroke-width="0.909" fill="none"/>
<circle cx="757.85" cy="403.40" r="1.96" fill="#50B432"/>
<text transform="translate(764.6 405.55) scale(0.9 1)" font-family="'DejaVu Sans Condensed','DejaVu Sans',sans-serif" font-weight="bold" font-size="6.138" fill="#333">Bahasa Indonesia</text>
<path d="M753.9 412.82 H761.8" stroke="#ED561B" stroke-width="0.909" fill="none"/>
<path d="M757.85 410.86 L759.81 412.82 L757.85 414.78 L755.89 412.82Z" fill="#ED561B"/>
<text transform="translate(764.6 414.97) scale(0.9 1)" font-family="'DejaVu Sans Condensed','DejaVu Sans',sans-serif" font-weight="bold" font-size="6.138" fill="#333">ไทย</text>
<path d="M753.9 422.24 H761.8" stroke="#DDDF00" stroke-width="0.909" fill="none"/>
<rect x="755.89" y="420.28" width="3.91" height="3.91" fill="#DDDF00"/>
<text transform="translate(764.6 424.39) scale(0.9 1)" font-family="'DejaVu Sans Condensed','DejaVu Sans',sans-serif" font-weight="bold" font-size="6.138" fill="#333">Vietnam</text>
<path d="M753.9 431.66 H761.8" stroke="#24CBE5" stroke-width="0.909" fill="none"/>
<path d="M757.85 429.70 L759.81 433.62 L755.89 433.62Z" fill="#24CBE5"/>
<text transform="translate(764.6 433.81) scale(0.9 1)" font-family="'DejaVu Sans Condensed','DejaVu Sans',sans-serif" font-weight="bold" font-size="6.138" fill="#333">Italiano</text>
<path d="M753.9 441.08 H761.8" stroke="#64E572" stroke-width="0.909" fill="none"/>
<path d="M755.89 439.12 L759.81 439.12 L757.85 443.04Z" fill="#64E572"/>
<text transform="translate(764.6 443.23) scale(0.9 1)" font-family="'DejaVu Sans Condensed','DejaVu Sans',sans-serif" font-weight="bold" font-size="6.138" fill="#333">Türkçe</text>
<path d="M753.9 450.50 H761.8" stroke="#FF9655" stroke-width="0.909" fill="none"/>
<circle cx="757.85" cy="450.50" r="1.96" fill="#FF9655"/>
<text x="764.6" y="452.10" font-family="DejaVu Sans,sans-serif" font-weight="bold" font-size="4.774" fill="#333">العربية</text>
</svg></div>
</div></body></html>
